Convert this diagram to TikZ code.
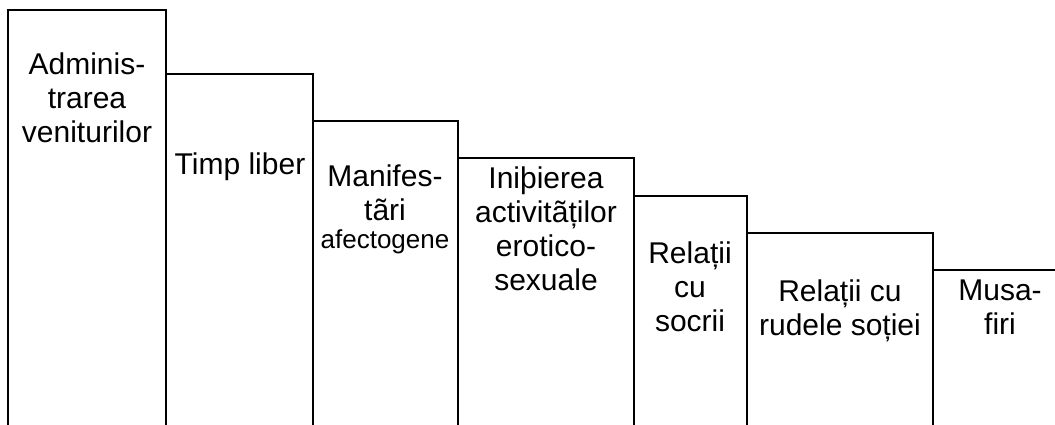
\documentclass[tikz,border=0pt]{standalone}
\usepackage{fontspec}
\setmainfont{Liberation Sans}
\tikzset{
  bar/.style={line width=1.5pt,line join=miter},
  lbl/.style={anchor=north,inner sep=0pt,align=center,
    font=\fontsize{30}{34}\selectfont}
}

\begin{document}
\begin{tikzpicture}[x=1pt,y=-1pt]
  \useasboundingbox (0,0) rectangle (1055,425);
  % steps, open at the bottom
  \draw[bar] (8,425)   |- (166,10)  -- (166,425);
  \draw[bar] (166,425) |- (313,74)  -- (313,425);
  \draw[bar] (313,425) |- (458,121) -- (458,425);
  \draw[bar] (458,425) |- (634,158) -- (634,425);
  \draw[bar] (634,425) |- (747,196) -- (747,425);
  \draw[bar] (747,425) |- (933,233) -- (933,425);
  \draw[bar] (933,425) |- (1055,270);
  % labels
  \node[lbl] (admin)   at (87,53)   {Adminis-\\trarea\\veniturilor};
  \node[lbl] (timp)    at (240,153) {Timp liber};
  \node[lbl] (manif)   at (385,165) {Manifes-\\tãri\\[-6pt]{\fontsize{26}{30}\selectfont afectogene}};
  \node[lbl] (initier) at (546,167) {Iniþierea\\activitãților\\erotico-\\sexuale};
  \node[lbl] (socri)   at (690,242) {Relații\\cu\\socrii};
  \node[lbl] (rude)    at (840,280) {Relații cu\\rudele soției};
  \node[lbl] (musaf)   at (1000,280) {Musa-\\firi};
\end{tikzpicture}
\end{document}
